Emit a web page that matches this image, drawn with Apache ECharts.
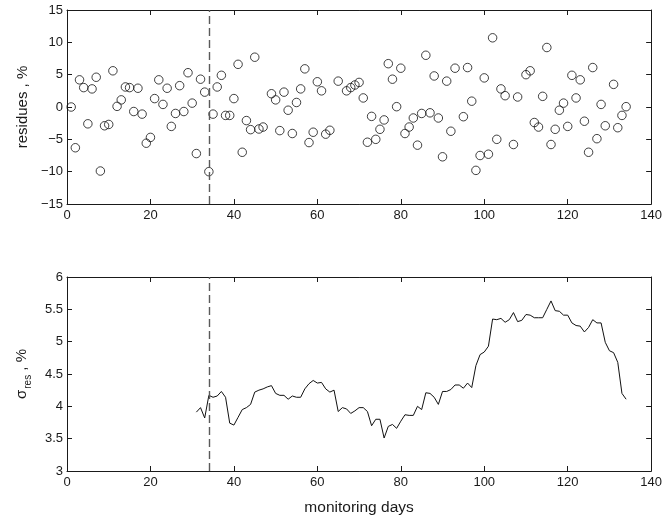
<!DOCTYPE html>
<html>
<head>
<meta charset="utf-8">
<script src="https://cdn.jsdelivr.net/npm/echarts@6/dist/echarts.min.js"></script>
<style>
html,body{margin:0;padding:0;background:#fff;}
#c{width:665px;height:520px;}
</style>
</head>
<body>
<div id="c"></div>
<script>
// Residues (top panel): monitoring day and residue value, %
var resDays = [1,2,3,4,5,6,7,8,9,10,11,12,13,14,15,16,17,18,19,20,21,22,23,24,25,26,27,28,29,30,
  31,32,33,34,35,36,37,38,39,40,41,42,43,44,45,46,47,49,50,51,52,53,54,55,56,57,58,59,60,61,62,63,
  65,67,68,69,70,71,72,73,74,75,76,77,78,79,80,81,82,83,84,85,86,87,88,89,90,91,92,93,
  95,96,97,98,99,100,101,102,103,104,105,107,108,110,111,112,113,114,115,116,117,118,119,120,
  121,122,123,124,125,126,127,128,129,131,132,133,134];
var resValues = [0,-6.3,4.2,3.0,-2.6,2.8,4.6,-9.9,-2.9,-2.7,5.6,0.1,1.1,3.1,3.0,-0.7,2.9,-1.1,-5.6,-4.7,
  1.3,4.2,0.4,2.9,-3.0,-1.0,3.3,-0.7,5.3,0.6,
  -7.2,4.3,2.3,-10.0,-1.1,3.1,4.9,-1.3,-1.3,1.3,6.6,-7.0,-2.1,-3.5,7.7,-3.4,-3.1,2.05,1.1,-3.65,2.3,-0.5,-4.1,0.7,2.8,5.9,-5.5,-3.9,3.9,2.5,-4.2,-3.6,
  4.0,2.5,3.0,3.4,3.8,1.4,-5.45,-1.45,-5.0,-3.45,-2.0,6.7,4.3,0.05,6.0,-4.1,-3.1,-1.7,-5.9,-1.0,8.0,-0.9,4.8,-1.7,-7.7,4.0,-3.75,6.0,
  -1.5,6.1,0.9,-9.8,-7.5,4.5,-7.3,10.7,-5.0,2.8,1.75,-5.8,1.55,5.0,5.6,-2.4,-3.1,1.65,9.2,-5.8,-3.45,-0.5,0.6,-3.0,
  4.9,1.4,4.2,-2.2,-7.0,6.1,-4.9,0.4,-2.9,3.5,-3.2,-1.3,0.05];

// Sigma of residues (bottom panel)
var sigDays = [31,32,33,34,35,36,37,38,39,40,41,42,43,44,45,46,47,48,49,50,51,52,53,54,55,56,57,58,59,60,
  61,62,63,64,65,66,67,68,69,70,71,72,73,74,75,76,77,78,79,80,81,82,83,84,85,86,87,88,89,90,
  91,92,93,94,95,96,97,98,99,100,101,102,103,104,105,106,107,108,109,110,111,112,113,114,115,116,117,118,119,120,
  121,122,123,124,125,126,127,128,129,130,131,132,133,134];
var sigValues = [3.91,3.98,3.82,4.17,4.14,4.16,4.23,4.14,3.74,3.71,3.83,3.95,3.98,4.03,4.22,4.25,4.27,4.30,4.32,4.20,
  4.17,4.17,4.11,4.16,4.14,4.14,4.27,4.35,4.40,4.36,
  4.37,4.27,4.22,4.25,3.92,3.98,3.96,3.89,3.93,3.98,3.98,3.92,3.70,3.80,3.80,3.51,3.69,3.72,3.66,3.77,3.87,3.86,3.86,4.00,3.95,4.21,4.20,4.14,4.03,4.23,
  4.23,4.26,4.33,4.33,4.28,4.36,4.29,4.63,4.80,4.84,4.93,5.35,5.34,5.36,5.30,5.34,5.45,5.31,5.33,5.42,5.41,5.37,5.37,5.37,5.50,5.63,5.48,5.47,5.41,5.41,
  5.29,5.25,5.24,5.15,5.22,5.34,5.29,5.29,4.99,4.86,4.83,4.68,4.20,4.11];

var markDay = 34;
var xTicks = [0,20,40,60,80,100,120,140];
var resTicks = [-15,-10,-5,0,5,10,15];
var sigTicks = [3,3.5,4,4.5,5,5.5,6];
var xName = 'monitoring days';
var resName = 'residues , %';

function pairs(xs, ys){ return xs.map(function(x,i){ return [x, ys[i]]; }); }

var FONT = 'Liberation Sans, Arial, Helvetica, sans-serif';
var INK = '#1a1a1a';
function fmt(v){ return String(v).replace('-', '\u2212'); }

function xAx(grid, pos, labels, name){
  return {
    type:'value', gridIndex:grid, position:pos, min:xTicks[0], max:xTicks[xTicks.length-1], interval:20,
    axisLine:{show:true, onZero:false, lineStyle:{color:INK, width:1}},
    axisTick:{show:true, inside:true, length:5, lineStyle:{color:INK}},
    axisLabel:{show:labels, color:INK, fontFamily:FONT, fontSize:13, margin:5, formatter:fmt},
    splitLine:{show:false},
    name: name || '', nameLocation:'middle', nameGap:29,
    nameTextStyle:{color:INK, fontFamily:FONT, fontSize:15.5}
  };
}
function yAx(grid, pos, labels, ticks, name, rich, gap){
  var a = {
    type:'value', gridIndex:grid, position:pos, min:ticks[0], max:ticks[ticks.length-1], interval:ticks[1]-ticks[0],
    axisLine:{show:true, onZero:false, lineStyle:{color:INK, width:1}},
    axisTick:{show:true, inside:true, length:5, lineStyle:{color:INK}},
    axisLabel:{show:labels, color:INK, fontFamily:FONT, fontSize:13, margin:4, formatter:fmt},
    splitLine:{show:false},
    name: name || '', nameLocation:'middle', nameGap:gap || 34, nameRotate:90,
    nameTextStyle:{color:INK, fontFamily:FONT, fontSize:15}
  };
  if (rich) a.nameTextStyle.rich = rich;
  return a;
}

var chart = echarts.init(document.getElementById('c'), null, {renderer:'canvas'});
var dashLine = {
  silent:true, symbol:['none','none'], label:{show:false},
  lineStyle:{color:'#5a5a5a', type:[8,4], width:1.4},
  data:[{xAxis:markDay}]
};
chart.setOption({
  animation:false,
  backgroundColor:'#ffffff',
  grid:[
    {left:67, right:13, top:10, height:194},
    {left:67, right:13, top:277, height:194}
  ],
  xAxis:[
    xAx(0,'bottom',true),
    xAx(0,'top',false),
    xAx(1,'bottom',true, xName),
    xAx(1,'top',false)
  ],
  yAxis:[
    yAx(0,'left',true,resTicks,resName,null,32),
    yAx(0,'right',false,resTicks),
    yAx(1,'left',true,sigTicks,'{m|σ}{s|res}{m| , %}',{
      m:{fontFamily:FONT, fontSize:15, color:INK, verticalAlign:'top'},
      s:{fontFamily:FONT, fontSize:10, color:INK, verticalAlign:'top', padding:[9,0,0,1]}
    },34),
    yAx(1,'right',false,sigTicks)
  ],
  series:[
    {
      type:'scatter', xAxisIndex:0, yAxisIndex:0,
      data:pairs(resDays,resValues),
      symbol:'circle', symbolSize:8.5,
      itemStyle:{color:'rgba(0,0,0,0)', borderColor:'#111', borderWidth:1},
      markLine:dashLine
    },
    {
      type:'line', xAxisIndex:2, yAxisIndex:2,
      data:pairs(sigDays,sigValues),
      symbol:'none', lineStyle:{color:'#111', width:1},
      markLine:dashLine
    }
  ]
});
</script>
</body>
</html>
